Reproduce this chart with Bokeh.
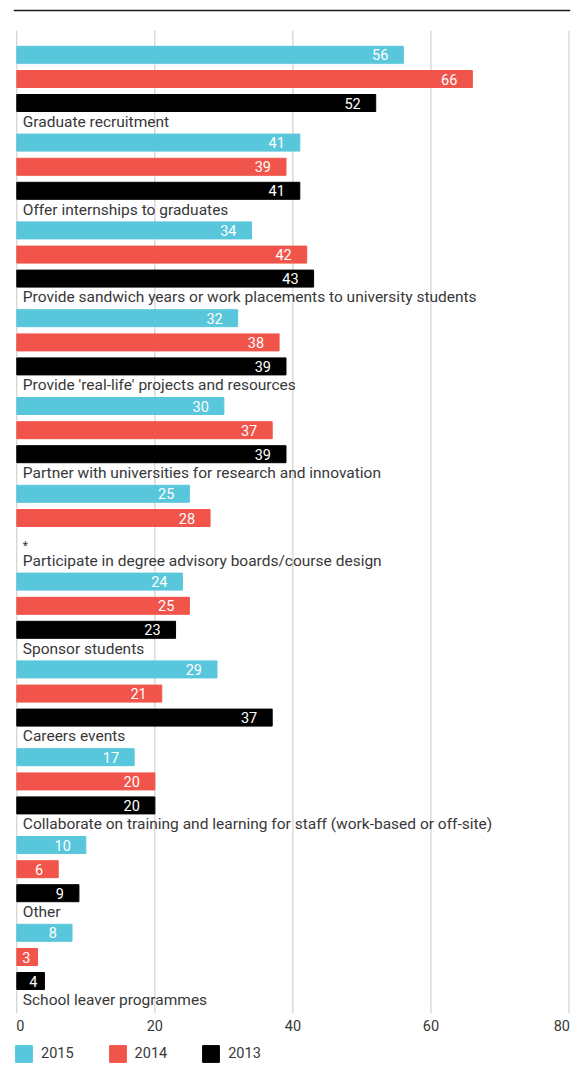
from bokeh.plotting import figure
from bokeh.models import Range1d, ColumnDataSource, Legend, LegendItem, Span
from bokeh.core.properties import value
from bokeh.embed import file_html
from bokeh.resources import INLINE

# ---------------- data ----------------
categories = [
    "Graduate recruitment",
    "Offer internships to graduates",
    "Provide sandwich years or work placements to university students",
    "Provide 'real-life' projects and resources",
    "Partner with universities for research and innovation",
    "Participate in degree advisory boards/course design",
    "Sponsor students",
    "Careers events",
    "Collaborate on training and learning for staff (work-based or off-site)",
    "Other",
    "School leaver programmes",
]
v2015 = [56, 41, 34, 32, 30, 25, 24, 29, 17, 10, 8]
v2014 = [66, 39, 42, 38, 37, 28, 25, 21, 20, 6, 3]
v2013 = [52, 41, 43, 39, 39, None, 23, 37, 20, 9, 4]
series_names = ["2015", "2014", "2013"]
x_ticks = [0, 20, 40, 60, 80]

# ---------------- style / layout ----------------
FONT = "Roboto"
COLORS = ["#59C7DB", "#F1544A", "#000000"]
TEXT_COLOR = "#383838"
W, H = 579, 1080
TOP0 = 54.3        # first bar centre (screen-like units)
PERIOD = 87.8      # height of one category block
OFFS = [0.0, 24.2, 48.2]
LABEL_OFF = 67.0
BAR_H = 17

p = figure(width=W, height=H, output_backend="svg", toolbar_location=None,
           x_range=Range1d(-0.478, 80.217), y_range=Range1d(H, 0),
           x_axis_location=None, y_axis_location=None,
           min_border_left=13, min_border_right=9, min_border_top=0, min_border_bottom=0)
p.xgrid.visible = False
p.ygrid.visible = False
p.outline_line_color = None
p.background_fill_color = "white"
p.border_fill_color = "white"

# top rule
p.add_layout(Span(location=10, dimension="width", line_color="#1a1a1a", line_width=1.5))

# vertical gridlines
p.segment(x0=x_ticks, x1=x_ticks, y0=[30] * len(x_ticks), y1=[1012.5] * len(x_ticks),
          line_color="#c8c8c8", line_width=1)

n = len(categories)
renderers = []
for s, vals in enumerate([v2015, v2014, v2013]):
    ys, xs, labs, xoff = [], [], [], []
    for k in range(n):
        if vals[k] is None:
            continue
        ys.append(TOP0 + PERIOD * k + OFFS[s])
        xs.append(vals[k])
        labs.append(str(vals[k]))
        xoff.append(-15 if vals[k] > 5 else -7)
    src = ColumnDataSource(dict(y=ys, right=xs, lab=labs, xoff=xoff))
    r = p.hbar(y="y", right="right", left=0, height=BAR_H, color=COLORS[s], source=src)
    renderers.append(r)
    p.text(x="right", y="y", text="lab", source=src, x_offset="xoff",
           text_align="right", text_baseline="middle", text_color="white",
           text_font=value(FONT), text_font_size="14.5px")

# missing-value asterisks
ast_y = [TOP0 + PERIOD * k + OFFS[2] + 3.5 for k in range(n) if v2013[k] is None]
p.text(x=[0] * len(ast_y), y=ast_y, text=["*"] * len(ast_y), x_offset=6,
       text_align="left", text_baseline="alphabetic", text_color=TEXT_COLOR,
       text_font=value(FONT), text_font_size="12px")

# category labels
lab_src = ColumnDataSource(dict(x=[0] * n, y=[TOP0 + PERIOD * k + LABEL_OFF for k in range(n)],
                                text=categories))
p.text(x="x", y="y", text="text", source=lab_src, x_offset=6,
       text_align="left", text_baseline="middle", text_color=TEXT_COLOR,
       text_font=value(FONT), text_font_size="15.5px")

# x tick labels
aligns = ["left"] + ["center"] * (len(x_ticks) - 2) + ["right"]
offs = [-0.5] + [0] * (len(x_ticks) - 2) + [1]
tick_src = ColumnDataSource(dict(x=x_ticks, y=[1025] * len(x_ticks),
                                 text=[str(t) for t in x_ticks], align=aligns, off=offs))
p.text(x="x", y="y", text="text", source=tick_src, text_align="align", x_offset="off",
       text_baseline="middle", text_color=TEXT_COLOR,
       text_font=value(FONT), text_font_size="14.5px")

legend = Legend(items=[LegendItem(label=nm, renderers=[r]) for nm, r in zip(series_names, renderers)],
                location=(0, 16), orientation="horizontal",
                glyph_width=21, glyph_height=21, label_height=21, label_standoff=7,
                spacing=33, padding=0, margin=0,
                border_line_alpha=0, background_fill_alpha=0,
                label_text_font=FONT, label_text_font_size="14.5px", label_text_color=TEXT_COLOR)
p.add_layout(legend)

open("out.html", "w").write(file_html(p, INLINE))
